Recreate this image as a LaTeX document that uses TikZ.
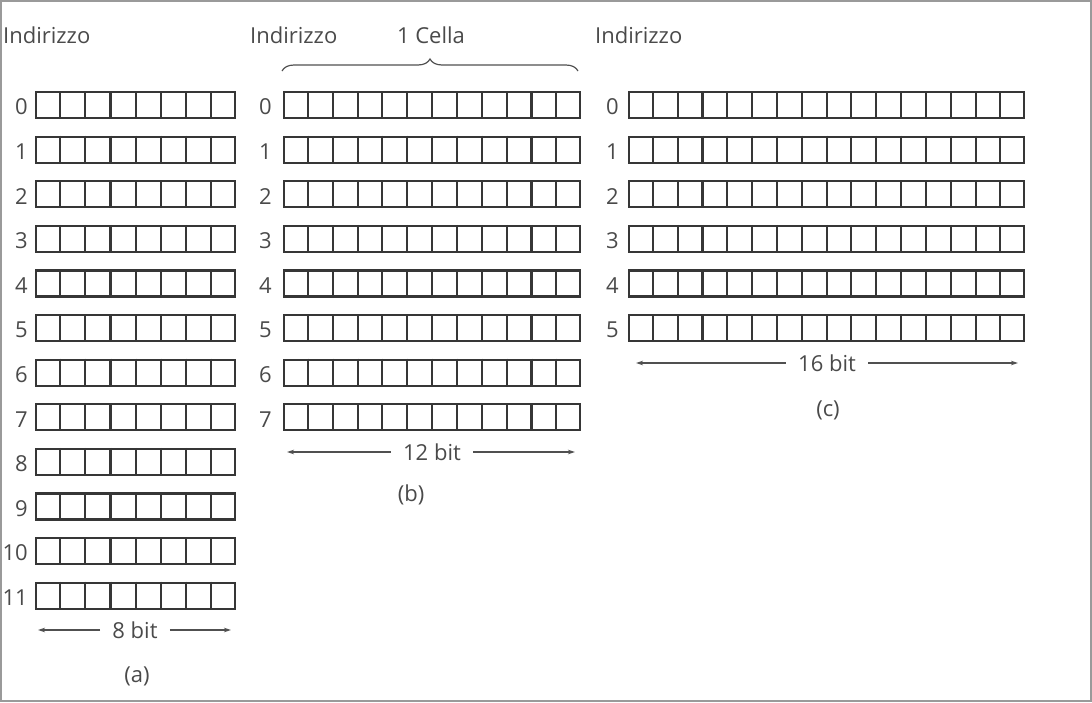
\documentclass[tikz,border=0pt]{standalone}
\usepackage{fontspec}
\setmainfont{Open Sans}
\usetikzlibrary{arrows.meta,decorations.pathreplacing,calc}
\definecolor{txtc}{HTML}{4A4A4A}
\definecolor{boxc}{HTML}{363636}
\definecolor{dimc}{HTML}{505050}
\definecolor{framec}{HTML}{9A9A9A}
\begin{document}
\begin{tikzpicture}[x=1pt,y=-1pt,
  txt/.style={text=txtc, font=\fontsize{22}{25}\selectfont, inner sep=0pt},
  reg/.style={draw=boxc, line width=2.2pt, minimum height=26pt, inner sep=0pt, anchor=north west},
  cellline/.style={draw=boxc, line width=2.1pt},
  dimtxt/.style={txt, inner xsep=12pt},
  dimline/.style={draw=dimc, line width=1.2pt, -{Stealth[length=7pt,width=4.5pt]}},
  bracestyle/.style={draw=dimc, line width=1.2pt, decorate, decoration={brace,amplitude=12pt}}
]
\useasboundingbox (0,0) rectangle (1092,702);
\draw[framec, line width=1.5pt] (1,1) rectangle (1091,701);

% headers
\node[txt, anchor=west] (ha) at (3,35) {Indirizzo};
\node[txt, anchor=west] (hb) at (250,35) {Indirizzo};
\node[txt] (cella) at (431,35) {1 Cella};
\node[txt, anchor=west] (hc) at (595,35) {Indirizzo};
\coordinate (br1) at (282,71);
\coordinate (br2) at (578,71);
\draw[bracestyle] (br1) -- (br2);

% column (a): 12 cells of 8 bit
\foreach \i in {0,...,11}{
  \pgfmathsetmacro\yt{91+\i*44.6}
  \node[reg, minimum width=199pt] (a\i) at (35,\yt) {};
  \foreach \k in {1,...,7}
    \draw[cellline] ($(a\i.north west)!\k/8!(a\i.north east)$) -- ($(a\i.south west)!\k/8!(a\i.south east)$);
  \node[txt, anchor=east] (la\i) at ([xshift=-7pt,yshift=-2pt]a\i.west) {\i};
}

% column (b): 8 cells of 12 bit
\foreach \i in {0,...,7}{
  \pgfmathsetmacro\yt{91+\i*44.6}
  \node[reg, minimum width=296pt] (b\i) at (283,\yt) {};
  \foreach \k in {1,...,11}
    \draw[cellline] ($(b\i.north west)!\k/12!(b\i.north east)$) -- ($(b\i.south west)!\k/12!(b\i.south east)$);
  \node[txt, anchor=east] (lb\i) at ([xshift=-11pt,yshift=-2pt]b\i.west) {\i};
}

% column (c): 6 cells of 16 bit
\foreach \i in {0,...,5}{
  \pgfmathsetmacro\yt{91+\i*44.6}
  \node[reg, minimum width=395pt] (c\i) at (628,\yt) {};
  \foreach \k in {1,...,15}
    \draw[cellline] ($(c\i.north west)!\k/16!(c\i.north east)$) -- ($(c\i.south west)!\k/16!(c\i.south east)$);
  \node[txt, anchor=east] (lc\i) at ([xshift=-9pt,yshift=-2pt]c\i.west) {\i};
}

% width dimensions
\node[dimtxt] (wa) at (135,630) {8 bit};
\coordinate (wal) at (38,630);
\coordinate (war) at (231,630);
\draw[dimline] (wa) -- (wal);
\draw[dimline] (wa) -- (war);

\node[dimtxt] (wb) at (432,452) {12 bit};
\coordinate (wbl) at (287,452);
\coordinate (wbr) at (575,452);
\draw[dimline] (wb) -- (wbl);
\draw[dimline] (wb) -- (wbr);

\node[dimtxt] (wc) at (827,363) {16 bit};
\coordinate (wcl) at (636,363);
\coordinate (wcr) at (1018,363);
\draw[dimline] (wc) -- (wcl);
\draw[dimline] (wc) -- (wcr);

% captions
\node[txt] (capa) at (137,676) {(a)};
\node[txt] (capb) at (411,495) {(b)};
\node[txt] (capc) at (828,410) {(c)};
\end{tikzpicture}
\end{document}
